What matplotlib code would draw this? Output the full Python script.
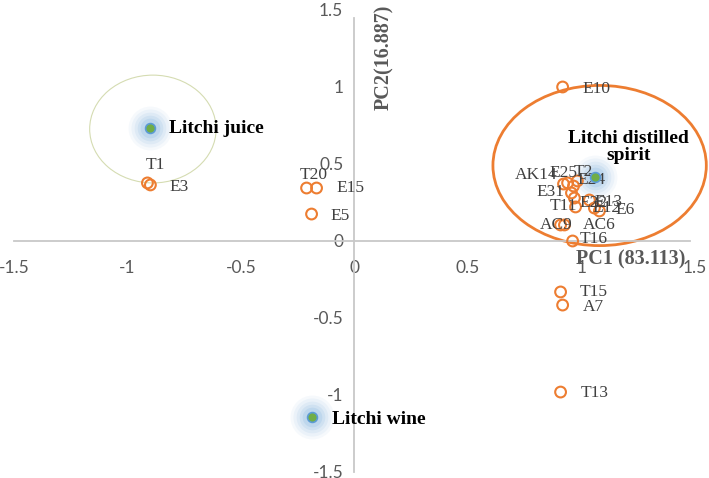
import matplotlib.pyplot as plt
from matplotlib.patches import Ellipse

plt.rcParams['axes.unicode_minus'] = False

# pontos das amostras (PC1, PC2)
sample_names = ['T1', 'E3', 'T20', 'E15', 'E5', 'E10', 'AK14', 'E25', 'T2', 'E24',
                'E31', 'E22', 'E13', 'T11', 'E12', 'E6', 'AC9', 'AC6', 'T16',
                'T15', 'A7', 'T13']
pc1 = [-0.912, -0.899, -0.211, -0.167, -0.189, 0.917, 0.921, 0.939, 0.982, 0.965,
       0.956, 0.969, 1.035, 0.974, 1.057, 1.079, 0.908, 0.925, 0.961,
       0.908, 0.917, 0.908]
pc2 = [0.377, 0.364, 0.344, 0.344, 0.175, 1.0, 0.370, 0.377, 0.390, 0.357,
       0.312, 0.279, 0.266, 0.221, 0.214, 0.195, 0.104, 0.104, 0.0,
       -0.331, -0.416, -0.981]

# produtos
product_names = ['Litchi juice', 'Litchi wine', 'Litchi distilled\nspirit']
prod_pc1 = [-0.899, -0.189, 1.061]
prod_pc2 = [0.734, -1.143, 0.416]

# deslocamento dos rótulos (pixels) e alinhamento
offsets = {
    'T1': (8, 18, 'center'), 'E3': (19, -2, 'left'), 'T20': (7, 13, 'center'),
    'E15': (20, 0, 'left'), 'E5': (19, -2, 'left'), 'E10': (20, -2, 'left'),
    'AK14': (-6, 9, 'right'), 'E25': (-4, 10, 'center'), 'T2': (6, 9, 'center'),
    'E24': (4, 6, 'left'), 'E31': (-7, 1, 'right'), 'E22': (5, -5, 'left'),
    'E13': (5, -2, 'left'), 'T11': (2, 1, 'right'), 'E12': (-2, 0, 'left'),
    'E6': (16, 1, 'left'), 'AC9': (-4, 0, 'center'), 'AC6': (18, 0, 'left'),
    'T16': (7, 2, 'left'), 'T15': (19, 0, 'left'), 'A7': (20, -2, 'left'),
    'T13': (20, -1, 'left'),
}

fig = plt.figure(figsize=(7.09, 4.78), dpi=100)
ax = fig.add_axes([0.0197, 0.0126, 0.9605, 0.9665])
ax.set_xlim(-1.5, 1.5)
ax.set_ylim(-1.5, 1.5)

for s in ['top', 'right']:
    ax.spines[s].set_visible(False)
ax.spines['left'].set_position(('data', 0))
ax.spines['bottom'].set_position(('data', 0))
for s in ['left', 'bottom']:
    ax.spines[s].set_color('#c8c8c8')
    ax.spines[s].set_linewidth(1.3)
ax.spines['left'].set_bounds(-1.5, 1.45)
ax.spines['bottom'].set_bounds(-1.5, 1.48)

ticks = [-1.5, -1, -0.5, 0, 0.5, 1, 1.5]
tick_labels = ['-1.5', '-1', '-0.5', '0', '0.5', '1', '1.5']
ax.set_xticks(ticks)
ax.set_xticklabels(tick_labels, family='Lato')
ax.set_yticks(ticks)
ax.set_yticklabels(tick_labels, family='Lato')
ax.tick_params(axis='x', length=0, pad=14, labelsize=12.5, labelcolor='#595959')
ax.tick_params(axis='y', length=0, pad=8, labelsize=12.5, labelcolor='#595959')

# elipses
ax.add_patch(Ellipse((-0.888, 0.727), 0.557, 0.70, fill=False, ec='#d5dcb2', lw=0.8))
ax.add_patch(Ellipse((1.08, 0.49), 0.94, 1.04, fill=False, ec='#ed7d31', lw=2,
                     clip_on=False))

# amostras
ax.scatter(pc1, pc2, s=60, facecolors='none', edgecolors='#ed7d31', linewidths=1.5, zorder=3)
for name, x, y in zip(sample_names, pc1, pc2):
    dx, dy, ha = offsets[name]
    ax.annotate(name, (x, y), xytext=(dx, dy), textcoords='offset pixels',
                ha=ha, va='center', fontsize=12.5, family='Liberation Serif',
                color='#404040', zorder=4)

# produtos com brilho azul
for size, alpha in [(1000, 0.05), (750, 0.07), (520, 0.09), (340, 0.11), (200, 0.14)]:
    ax.scatter(prod_pc1, prod_pc2, s=size, color='#5b9bd5', alpha=alpha, lw=0, zorder=2)
ax.scatter(prod_pc1, prod_pc2, s=50, color='#70ad47', edgecolors='#5b9bd5', linewidths=1.2, zorder=5)

ax.annotate(product_names[0], (prod_pc1[0], prod_pc2[0]), xytext=(19, -1),
            textcoords='offset pixels', fontsize=14, fontweight='bold',
            family='Liberation Serif', va='center', ha='left')
ax.annotate(product_names[1], (prod_pc1[1], prod_pc2[1]), xytext=(20, -2),
            textcoords='offset pixels', fontsize=14, fontweight='bold',
            family='Liberation Serif', va='center', ha='left')
ax.annotate(product_names[2], (prod_pc1[2], prod_pc2[2]), xytext=(33, 30),
            textcoords='offset pixels', fontsize=14, fontweight='bold',
            family='Liberation Serif', va='center', ha='center', linespacing=1.05)

# títulos dos eixos
ax.text(1.215, -0.12, 'PC1 (83.113)', fontsize=14.5, fontweight='bold', family='Liberation Serif',
        color='#595959', ha='center', va='center')
ax.text(0.13, 1.19, 'PC2(16.887)', fontsize=14.5, fontweight='bold', family='Liberation Serif',
        color='#595959', ha='center', va='center', rotation=90)

fig.savefig('out.png', dpi=100)
